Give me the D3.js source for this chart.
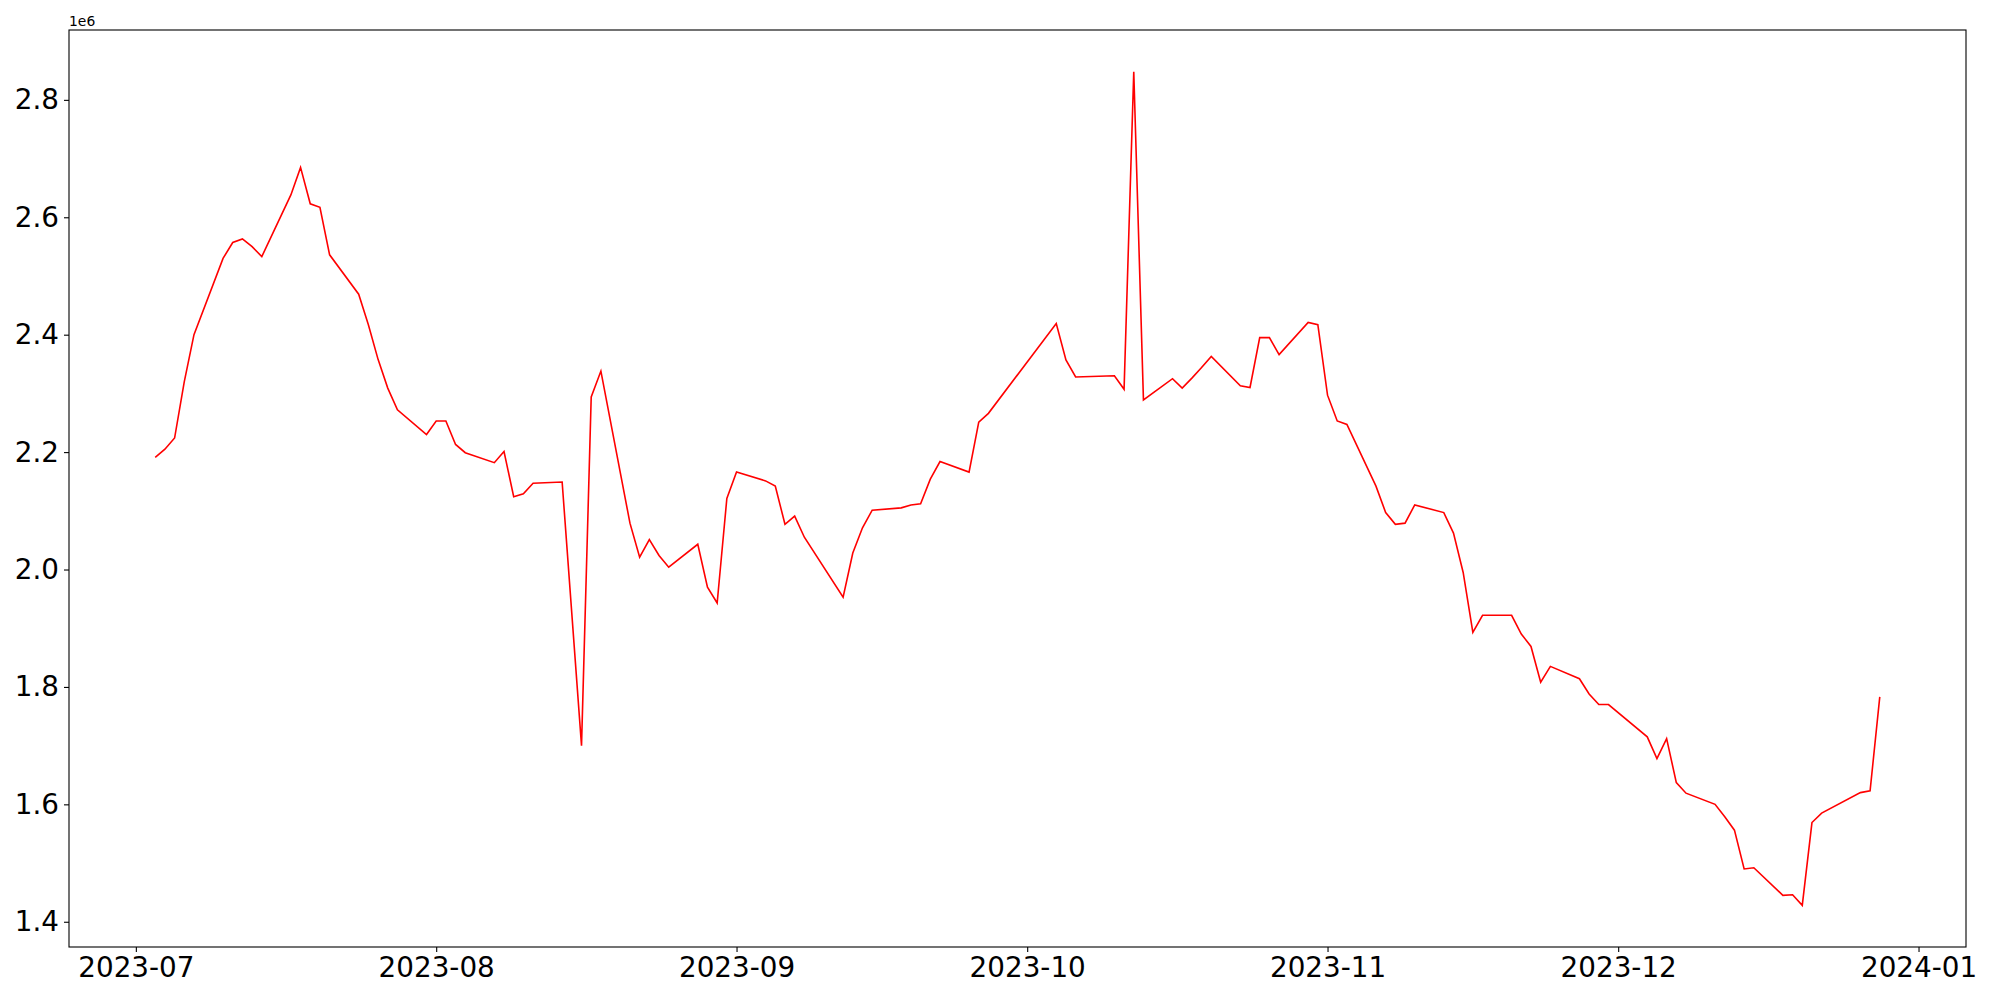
<!DOCTYPE html>
<html>
<head>
<meta charset="utf-8">
<script src="https://cdn.jsdelivr.net/npm/d3@7"></script>
<style>
    body { margin: 0; background: #fff; }
    text { font-family: 'DejaVu Sans', sans-serif; }
</style>
</head>
<body>
<div id="chart"></div>
<script>
// trading days (2023) and values in millions
const dates = [
    '2023-07-03', '2023-07-04', '2023-07-05', '2023-07-06', '2023-07-07',
    '2023-07-10', '2023-07-11', '2023-07-12', '2023-07-13', '2023-07-14',
    '2023-07-17', '2023-07-18', '2023-07-19', '2023-07-20', '2023-07-21',
    '2023-07-24', '2023-07-25', '2023-07-26', '2023-07-27', '2023-07-28',
    '2023-07-31', '2023-08-01', '2023-08-02', '2023-08-03', '2023-08-04',
    '2023-08-07', '2023-08-08', '2023-08-09', '2023-08-10', '2023-08-11',
    '2023-08-14', '2023-08-16', '2023-08-17', '2023-08-18',
    '2023-08-21', '2023-08-22', '2023-08-23', '2023-08-24', '2023-08-25',
    '2023-08-28', '2023-08-29', '2023-08-30', '2023-08-31', '2023-09-01',
    '2023-09-04', '2023-09-05', '2023-09-06', '2023-09-07', '2023-09-08',
    '2023-09-12', '2023-09-13', '2023-09-14', '2023-09-15',
    '2023-09-18', '2023-09-19', '2023-09-20', '2023-09-21', '2023-09-22',
    '2023-09-25', '2023-09-26', '2023-09-27',
    '2023-10-04', '2023-10-05', '2023-10-06',
    '2023-10-10', '2023-10-11', '2023-10-12', '2023-10-13',
    '2023-10-16', '2023-10-17', '2023-10-18', '2023-10-19', '2023-10-20',
    '2023-10-23', '2023-10-24', '2023-10-25', '2023-10-26', '2023-10-27',
    '2023-10-30', '2023-10-31', '2023-11-01', '2023-11-02', '2023-11-03',
    '2023-11-06', '2023-11-07', '2023-11-08', '2023-11-09', '2023-11-10',
    '2023-11-13', '2023-11-14', '2023-11-15', '2023-11-16', '2023-11-17',
    '2023-11-20', '2023-11-21', '2023-11-22', '2023-11-23', '2023-11-24',
    '2023-11-27', '2023-11-28', '2023-11-29', '2023-11-30',
    '2023-12-04', '2023-12-05', '2023-12-06', '2023-12-07', '2023-12-08',
    '2023-12-11', '2023-12-12', '2023-12-13', '2023-12-14', '2023-12-15',
    '2023-12-18', '2023-12-19', '2023-12-20', '2023-12-21', '2023-12-22',
    '2023-12-26', '2023-12-27', '2023-12-28'
];
const values = [
    2.191, 2.205, 2.224, 2.320, 2.400,
    2.530, 2.557, 2.563, 2.550, 2.533,
    2.638, 2.685, 2.623, 2.617, 2.536,
    2.469, 2.417, 2.358, 2.309, 2.272,
    2.230, 2.253, 2.253, 2.213, 2.199,
    2.182, 2.201, 2.124, 2.129, 2.147,
    2.149, 1.700, 2.294, 2.338,
    2.079, 2.021, 2.051, 2.024, 2.004,
    2.043, 1.970, 1.943, 2.121, 2.166,
    2.151, 2.142, 2.077, 2.091, 2.055,
    1.953, 2.028, 2.071, 2.101,
    2.105, 2.110, 2.112, 2.154, 2.184,
    2.166, 2.251, 2.266,
    2.419, 2.357, 2.328,
    2.330, 2.307, 2.848, 2.289,
    2.325, 2.309, 2.326, 2.344, 2.363,
    2.313, 2.310, 2.395, 2.395, 2.366,
    2.421, 2.417, 2.297, 2.253, 2.247,
    2.142, 2.097, 2.077, 2.079, 2.110,
    2.097, 2.062, 1.995, 1.893, 1.922,
    1.922, 1.890, 1.869, 1.808, 1.835,
    1.814, 1.788, 1.770, 1.770,
    1.715, 1.678, 1.712, 1.637, 1.619,
    1.600, 1.579, 1.556, 1.490, 1.492,
    1.445, 1.446, 1.428, 1.569, 1.585,
    1.620, 1.623, 1.783
];
const yTicks = [1.4e6, 1.6e6, 1.8e6, 2.0e6, 2.2e6, 2.4e6, 2.6e6, 2.8e6];
const xTicks = ['2023-07-01', '2023-08-01', '2023-09-01', '2023-10-01', '2023-11-01', '2023-12-01', '2024-01-01'];

const W = 2000, H = 1000;
const margin = {top: 30, right: 34, bottom: 53, left: 69};
const width = W - margin.left - margin.right, height = H - margin.top - margin.bottom;

const parse = d3.utcParse('%Y-%m-%d');
const data = dates.map((d, i) => ({date: parse(d), value: values[i] * 1e6}));

// matplotlib style 5% padding
const pad = (ext) => {
    const r = ext[1] - ext[0];
    return [ext[0] - r * 0.05, ext[1] + r * 0.05];
};
const xExt = d3.extent(data, d => +d.date);
const yExt = d3.extent(data, d => d.value);

const xScale = d3.scaleUtc()
    .domain(pad(xExt).map(t => new Date(t)))
    .range([0, width]);
const yScale = d3.scaleLinear()
    .domain(pad(yExt))
    .range([height, 0]);

const svg = d3.select('#chart')
    .append('svg')
    .attr('width', W)
    .attr('height', H)
    .append('g')
    .attr('transform', `translate(${margin.left},${margin.top})`);

const line = d3.line()
    .x(d => xScale(d.date))
    .y(d => yScale(d.value));

svg.append('path')
    .datum(data)
    .attr('fill', 'none')
    .attr('stroke', 'red')
    .attr('stroke-width', 1.6)
    .attr('stroke-linejoin', 'miter')
    .attr('d', line);

const yAxis = svg.append('g')
    .call(d3.axisLeft(yScale)
        .tickValues(yTicks)
        .tickFormat(d => (d / 1e6).toFixed(1))
        .tickSize(5)
        .tickPadding(5));

const xAxis = svg.append('g')
    .attr('transform', `translate(0,${height})`)
    .call(d3.axisBottom(xScale)
        .tickValues(xTicks.map(parse))
        .tickFormat(d3.utcFormat('%Y-%m'))
        .tickSize(5)
        .tickPadding(5));

[xAxis, yAxis].forEach(a => {
    a.select('.domain').remove();
    a.selectAll('line').attr('stroke', '#000').attr('stroke-width', 1.1);
    a.selectAll('text')
        .attr('fill', '#000')
        .style('font-size', '27.8px')
        .style('font-family', 'DejaVu Sans');
});

// frame
svg.append('rect')
    .attr('width', width)
    .attr('height', height)
    .attr('fill', 'none')
    .attr('stroke', '#000')
    .attr('stroke-width', 1.1);

// offset label
svg.append('text')
    .attr('x', 0)
    .attr('y', -4)
    .style('font-size', '13.9px')
    .text('1e6');
</script>
</body>
</html>
